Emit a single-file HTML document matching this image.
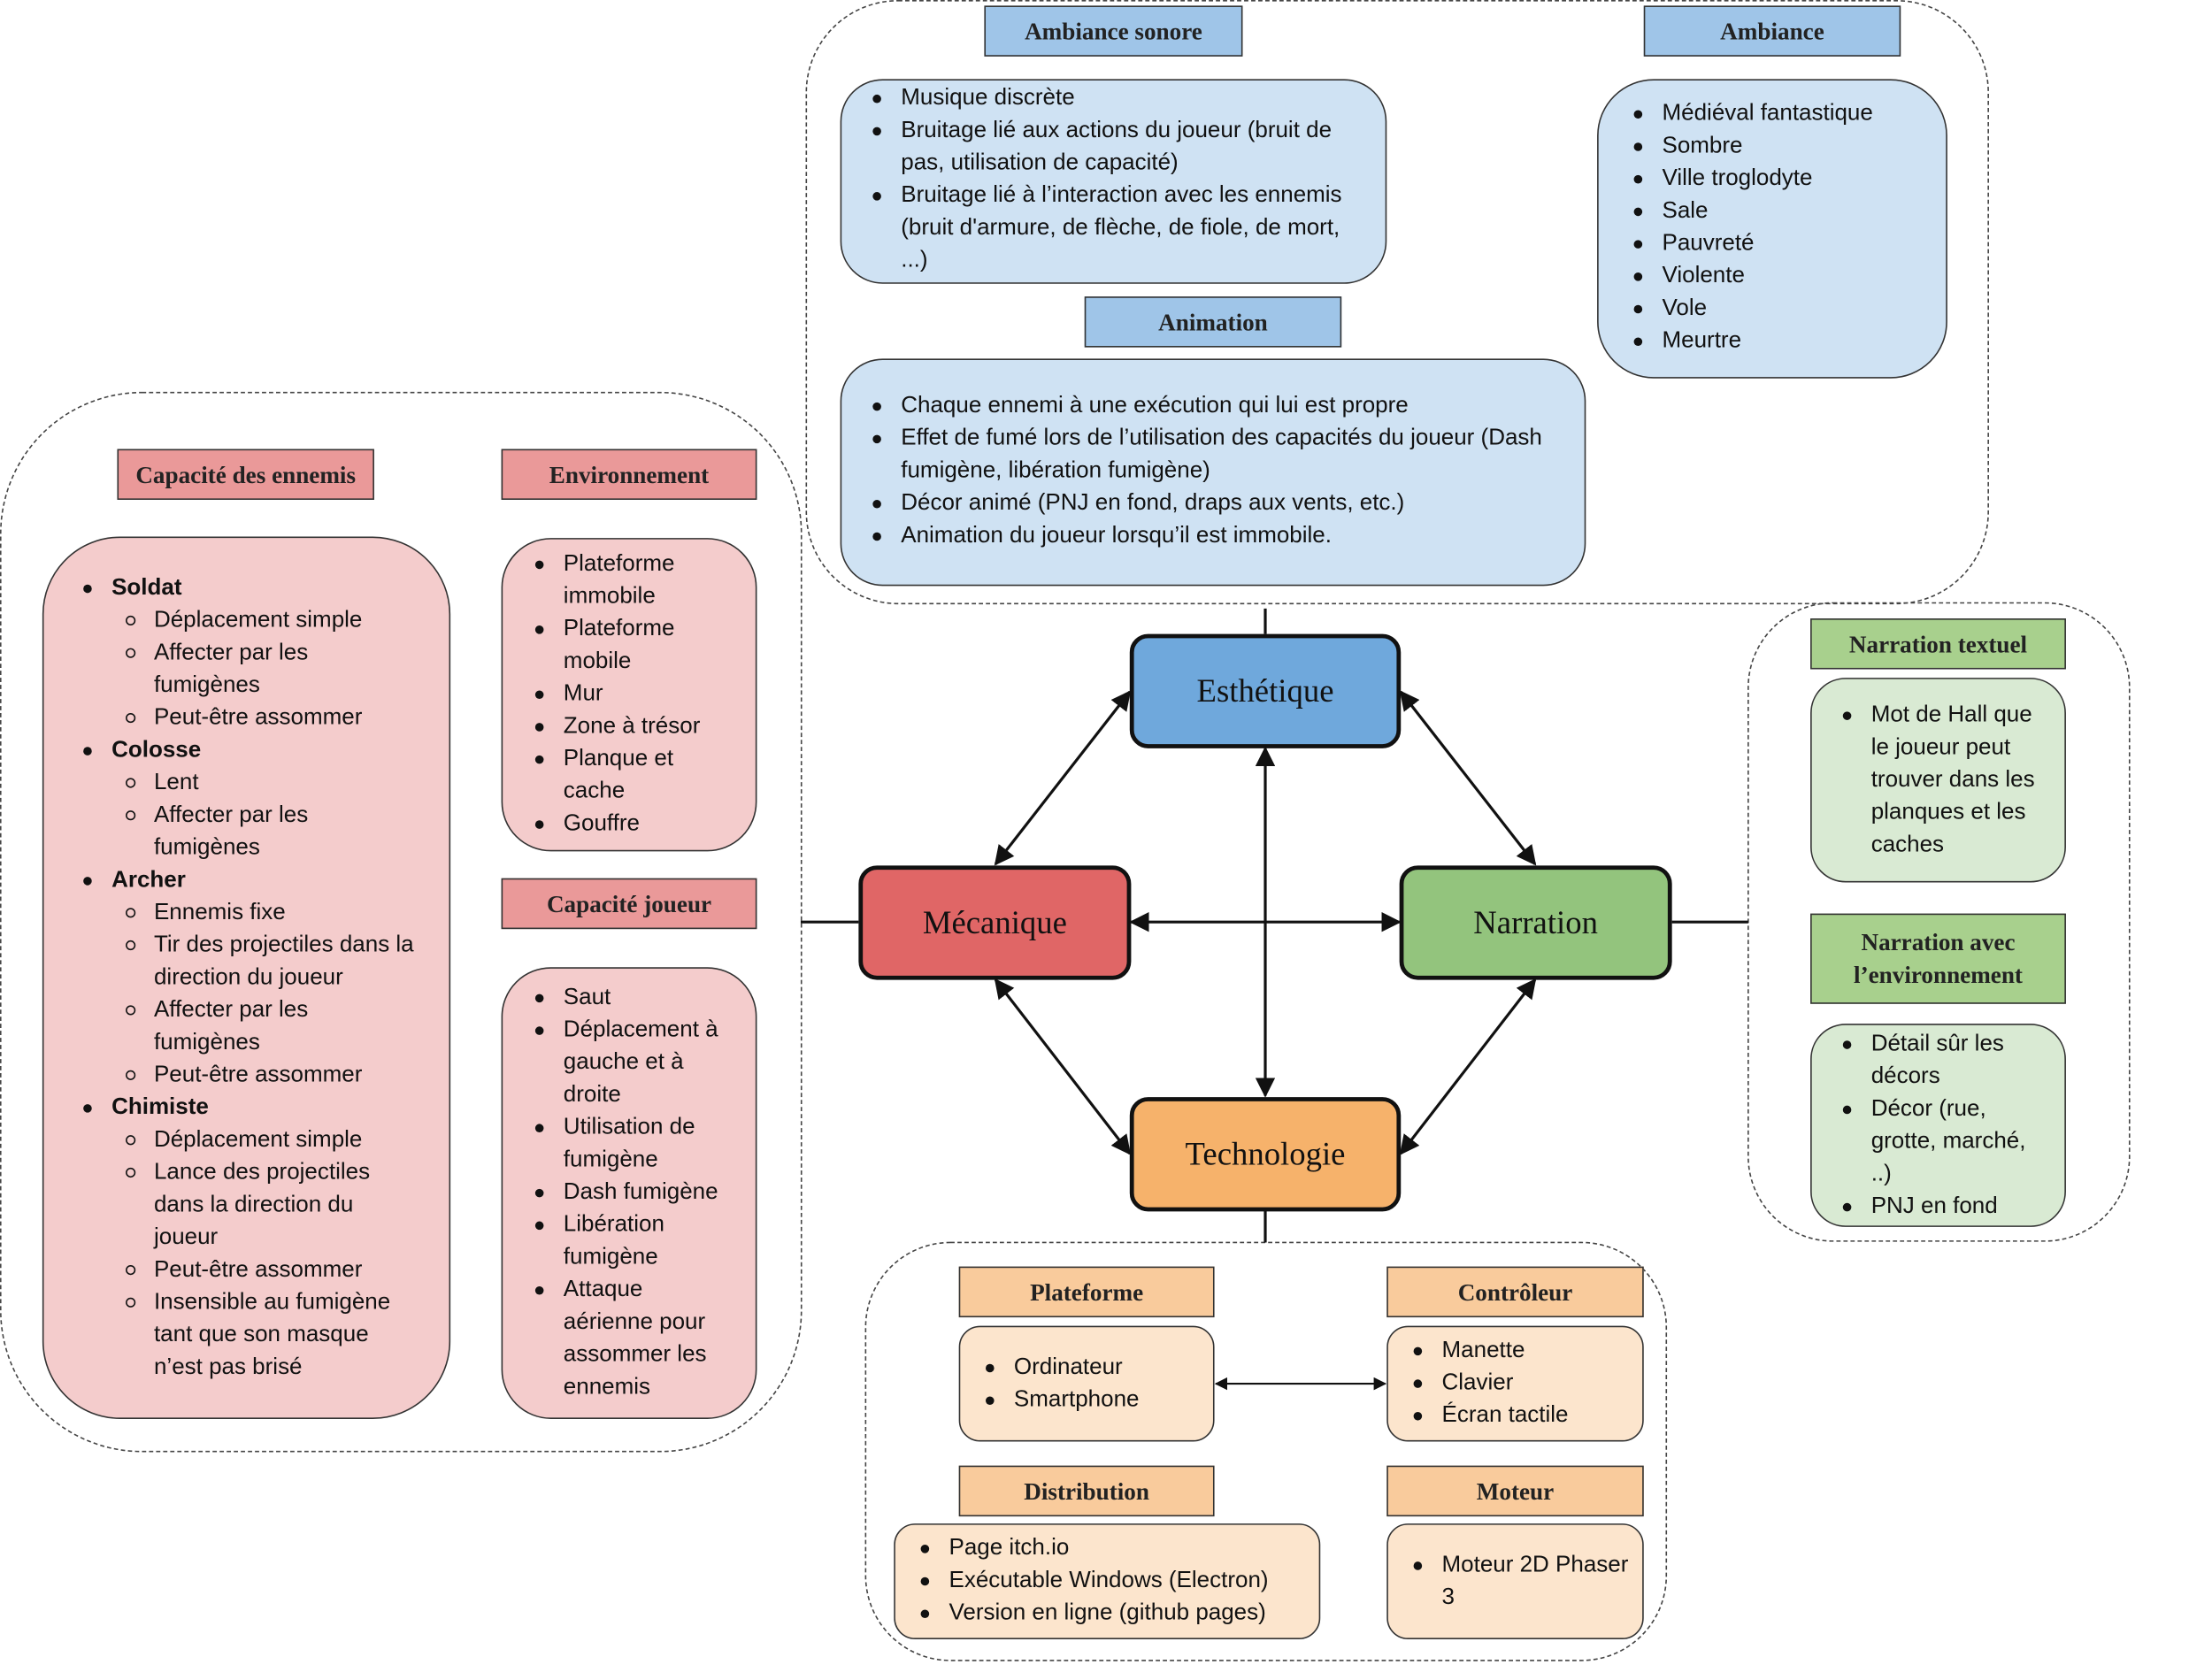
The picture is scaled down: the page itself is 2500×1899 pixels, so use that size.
<!DOCTYPE html>
<html><head><meta charset="utf-8">
<style>
html,body{margin:0;padding:0;background:#fff;}
body{width:2500px;height:1887px;overflow:hidden;position:relative;}
#w{position:absolute;left:0;top:0;width:1570px;height:1190px;transform:scale(1.596);transform-origin:0 0;}
.h{position:absolute;box-sizing:border-box;border:1px solid #333;font-family:"Liberation Serif",serif;font-weight:bold;font-size:17px;color:#222;text-align:center;display:flex;align-items:center;justify-content:center;line-height:23px;}
.hb{background:#9fc5e8}.hr{background:#ea9999}.hg{background:#a8d08d}.ho{background:#f9cb9c}
.b{position:absolute;box-sizing:border-box;border:1px solid #333;}
.bb{background:#cfe2f3}.br{background:#f4cccc}.bg{background:#d9ead3}.bo{background:#fce5cd}
.l{position:absolute;font-family:"Liberation Sans",sans-serif;font-size:16.3px;line-height:23px;color:#111;white-space:nowrap;}
.l div{position:relative;height:23px;}
.l i{position:absolute;left:-20px;top:9px;width:6px;height:6px;border-radius:50%;background:#111;}
.l .s{margin-left:30px;}
.l .s i{left:-20px;top:8px;width:5px;height:5px;background:none;border:1px solid #111;}
.n{position:absolute;box-sizing:border-box;border:3px solid #111;border-radius:13px;font-family:"Liberation Serif",serif;font-size:23px;color:#111;display:flex;align-items:center;justify-content:center;}
svg{position:absolute;left:0;top:0;}
</style></head><body><div id="w">
<svg width="1570" height="1190" viewBox="0 0 1570 1190">
<defs><marker id="a" viewBox="0 0 10 10" refX="9" refY="5" markerWidth="7" markerHeight="7" orient="auto-start-reverse"><path d="M0,0 L10,5 L0,10 z" fill="#111"/></marker></defs>
<g fill="none" stroke="#444" stroke-width="1" stroke-dasharray="3,2">
<rect x="571" y="0.5" width="837" height="427" rx="65"/>
<rect x="0.5" y="278" width="567" height="750" rx="100"/>
<rect x="1238" y="427" width="270" height="452" rx="60"/>
<rect x="613" y="880" width="567" height="296" rx="60"/>
</g>
<g stroke="#111" stroke-width="2" fill="none">
<line x1="896" y1="431" x2="896" y2="449"/>
<line x1="896" y1="857" x2="896" y2="880"/>
<line x1="567" y1="653" x2="608" y2="653"/>
<line x1="1184" y1="653" x2="1238" y2="653"/>
<line x1="800" y1="490" x2="705" y2="612" marker-start="url(#a)" marker-end="url(#a)"/>
<line x1="992" y1="490" x2="1087" y2="612" marker-start="url(#a)" marker-end="url(#a)"/>
<line x1="705" y1="694" x2="800" y2="817" marker-start="url(#a)" marker-end="url(#a)"/>
<line x1="1087" y1="694" x2="992" y2="817" marker-start="url(#a)" marker-end="url(#a)"/>
<line x1="896" y1="530" x2="896" y2="776" marker-start="url(#a)" marker-end="url(#a)"/>
<line x1="801" y1="653" x2="991" y2="653" marker-start="url(#a)" marker-end="url(#a)"/>
<line x1="861" y1="980" x2="981" y2="980" stroke-width="1.3" marker-start="url(#a)" marker-end="url(#a)"/>
</g>
</svg>

<div class="h hb" style="left:697px;top:4px;width:183px;height:36px">Ambiance sonore</div>
<div class="h hb" style="left:1164px;top:4px;width:182px;height:36px">Ambiance</div>
<div class="h hb" style="left:768px;top:210px;width:182px;height:36px">Animation</div>
<div class="h hr" style="left:83px;top:318px;width:182px;height:36px">Capacité des ennemis</div>
<div class="h hr" style="left:355px;top:318px;width:181px;height:36px">Environnement</div>
<div class="h hr" style="left:355px;top:622px;width:181px;height:36px">Capacité joueur</div>
<div class="h hg" style="left:1282px;top:438px;width:181px;height:36px">Narration textuel</div>
<div class="h hg" style="left:1282px;top:647px;width:181px;height:64px">Narration avec<br>l’environnement</div>
<div class="h ho" style="left:679px;top:897px;width:181px;height:36px">Plateforme</div>
<div class="h ho" style="left:982px;top:897px;width:182px;height:36px">Contrôleur</div>
<div class="h ho" style="left:679px;top:1038px;width:181px;height:36px">Distribution</div>
<div class="h ho" style="left:982px;top:1038px;width:182px;height:36px">Moteur</div>

<div class="b bb" style="left:595px;top:56px;width:387px;height:145px;border-radius:30px"></div>
<div class="b bb" style="left:1131px;top:56px;width:248px;height:212px;border-radius:40px"></div>
<div class="b bb" style="left:595px;top:254px;width:528px;height:161px;border-radius:30px"></div>
<div class="b br" style="left:30px;top:380px;width:289px;height:625px;border-radius:55px"></div>
<div class="b br" style="left:355px;top:381px;width:181px;height:222px;border-radius:35px"></div>
<div class="b br" style="left:355px;top:685px;width:181px;height:320px;border-radius:35px"></div>
<div class="b bg" style="left:1282px;top:480px;width:181px;height:145px;border-radius:25px"></div>
<div class="b bg" style="left:1282px;top:725px;width:181px;height:144px;border-radius:25px"></div>
<div class="b bo" style="left:679px;top:939px;width:181px;height:82px;border-radius:15px"></div>
<div class="b bo" style="left:982px;top:939px;width:182px;height:82px;border-radius:15px"></div>
<div class="b bo" style="left:633px;top:1079px;width:302px;height:82px;border-radius:15px"></div>
<div class="b bo" style="left:982px;top:1079px;width:182px;height:82px;border-radius:15px"></div>

<div class="l" style="left:638px;top:58px">
<div><i></i>Musique discrète</div>
<div><i></i>Bruitage lié aux actions du joueur (bruit de</div>
<div>pas, utilisation de capacité)</div>
<div><i></i>Bruitage lié à l’interaction avec les ennemis</div>
<div>(bruit d'armure, de flèche, de fiole, de mort,</div>
<div>...)</div>
</div>
<div class="l" style="left:1177px;top:69px">
<div><i></i>Médiéval fantastique</div><div><i></i>Sombre</div><div><i></i>Ville troglodyte</div><div><i></i>Sale</div><div><i></i>Pauvreté</div><div><i></i>Violente</div><div><i></i>Vole</div><div><i></i>Meurtre</div>
</div>
<div class="l" style="left:638px;top:276px">
<div><i></i>Chaque ennemi à une exécution qui lui est propre</div>
<div><i></i>Effet de fumé lors de l’utilisation des capacités du joueur (Dash</div>
<div>fumigène, libération fumigène)</div>
<div><i></i>Décor animé (PNJ en fond, draps aux vents, etc.)</div>
<div><i></i>Animation du joueur lorsqu’il est immobile.</div>
</div>
<div class="l" style="left:79px;top:405px">
<div><i></i><b>Soldat</b></div>
<div class="s"><i></i>Déplacement simple</div>
<div class="s"><i></i>Affecter par les</div><div class="s">fumigènes</div>
<div class="s"><i></i>Peut-être assommer</div>
<div><i></i><b>Colosse</b></div>
<div class="s"><i></i>Lent</div>
<div class="s"><i></i>Affecter par les</div><div class="s">fumigènes</div>
<div><i></i><b>Archer</b></div>
<div class="s"><i></i>Ennemis fixe</div>
<div class="s"><i></i>Tir des projectiles dans la</div><div class="s">direction du joueur</div>
<div class="s"><i></i>Affecter par les</div><div class="s">fumigènes</div>
<div class="s"><i></i>Peut-être assommer</div>
<div><i></i><b>Chimiste</b></div>
<div class="s"><i></i>Déplacement simple</div>
<div class="s"><i></i>Lance des projectiles</div><div class="s">dans la direction du</div><div class="s">joueur</div>
<div class="s"><i></i>Peut-être assommer</div>
<div class="s"><i></i>Insensible au fumigène</div><div class="s">tant que son masque</div><div class="s">n’est pas brisé</div>
</div>
<div class="l" style="left:399px;top:388px">
<div><i></i>Plateforme</div><div>immobile</div><div><i></i>Plateforme</div><div>mobile</div><div><i></i>Mur</div><div><i></i>Zone à trésor</div><div><i></i>Planque et</div><div>cache</div><div><i></i>Gouffre</div>
</div>
<div class="l" style="left:399px;top:695px">
<div><i></i>Saut</div><div><i></i>Déplacement à</div><div>gauche et à</div><div>droite</div><div><i></i>Utilisation de</div><div>fumigène</div><div><i></i>Dash fumigène</div><div><i></i>Libération</div><div>fumigène</div><div><i></i>Attaque</div><div>aérienne pour</div><div>assommer les</div><div>ennemis</div>
</div>
<div class="l" style="left:1325px;top:495px">
<div><i></i>Mot de Hall que</div><div>le joueur peut</div><div>trouver dans les</div><div>planques et les</div><div>caches</div>
</div>
<div class="l" style="left:1325px;top:728px">
<div><i></i>Détail sûr les</div><div>décors</div><div><i></i>Décor (rue,</div><div>grotte, marché,</div><div>..)</div><div><i></i>PNJ en fond</div>
</div>
<div class="l" style="left:718px;top:957px"><div><i></i>Ordinateur</div><div><i></i>Smartphone</div></div>
<div class="l" style="left:1021px;top:945px"><div><i></i>Manette</div><div><i></i>Clavier</div><div><i></i>Écran tactile</div></div>
<div class="l" style="left:672px;top:1085px"><div><i></i>Page itch.io</div><div><i></i>Exécutable Windows (Electron)</div><div><i></i>Version en ligne (github pages)</div></div>
<div class="l" style="left:1021px;top:1097px"><div><i></i>Moteur 2D Phaser</div><div>3</div></div>

<div class="n" style="left:800px;top:449px;width:192px;height:81px;background:#6fa8dc">Esthétique</div>
<div class="n" style="left:608px;top:613px;width:193px;height:81px;background:#e06666">Mécanique</div>
<div class="n" style="left:991px;top:613px;width:193px;height:81px;background:#93c47d">Narration</div>
<div class="n" style="left:800px;top:777px;width:192px;height:81px;background:#f6b26b">Technologie</div>
</div></body></html>
